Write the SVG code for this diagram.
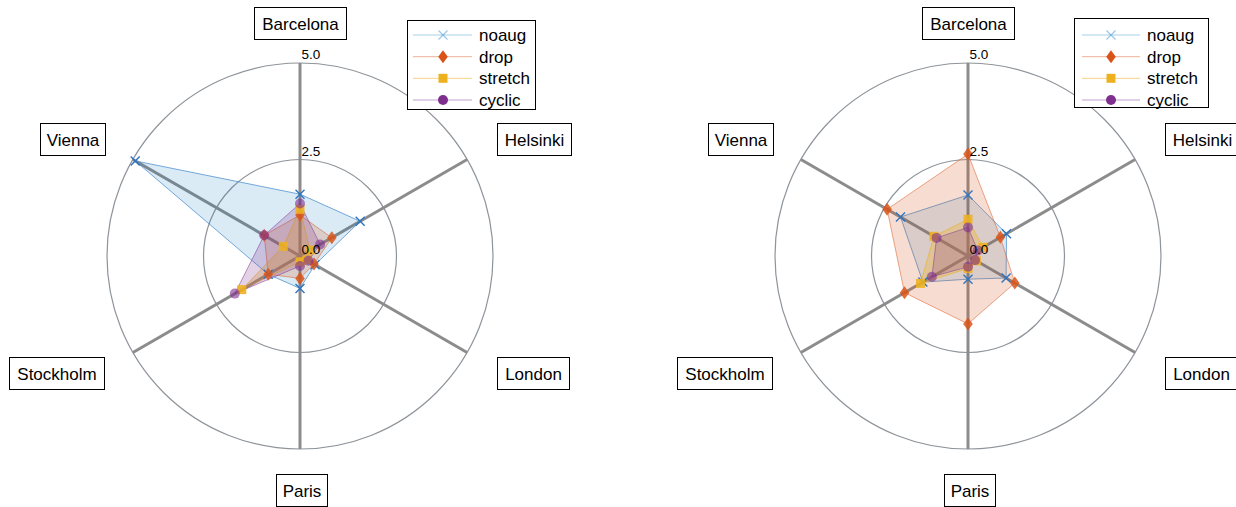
<svg xmlns="http://www.w3.org/2000/svg" xmlns:xlink="http://www.w3.org/1999/xlink" width="1236" height="507" viewBox="0 0 1236 507">
<style>
.ring{fill:none;stroke:#8e949a;stroke-width:1.2}
.spoke{stroke:#8c8c8c;stroke-width:3;stroke-linecap:butt}
.box{fill:#fff;stroke:#000;stroke-width:1}
.lbl{font-family:"Liberation Sans",Arial,sans-serif;font-size:17px;fill:#000;text-anchor:middle}
.tick{font-family:"Liberation Sans",Arial,sans-serif;font-size:13.5px;fill:#000}
.leg{font-family:"Liberation Sans",Arial,sans-serif;font-size:17px;fill:#000}
.p-noaug{fill:#0072BD;fill-opacity:0.14;stroke:#3d86cc;stroke-opacity:0.7;stroke-width:1}
.p-drop{fill:#D95319;fill-opacity:0.2;stroke:#D95319;stroke-opacity:0.5;stroke-width:1}
.p-stretch{fill:#EDB120;fill-opacity:0.3;stroke:#EDB120;stroke-opacity:0.6;stroke-width:1}
.p-cyclic{fill:#7E2F8E;fill-opacity:0.22;stroke:#7E2F8E;stroke-opacity:0.5;stroke-width:1}
.m-noaug{stroke:#2f74c0;stroke-width:1.4;fill:none}
.m-drop{fill:#D95319;fill-opacity:0.85}
.m-stretch{fill:#EDB120;fill-opacity:0.9}
.m-cyclic{fill:#7E2F8E;fill-opacity:0.6}
</style>
<defs>
<path id="mx" d="M-4.5,-4.5 L4.5,4.5 M-4.5,4.5 L4.5,-4.5"/>
<path id="md" d="M0,-6.5 L4.8,0 L0,6.5 L-4.8,0 Z"/>
<rect id="ms" x="-4.5" y="-4.5" width="9" height="9"/>
<circle id="mc" r="5"/>
</defs>
<rect width="1236" height="507" fill="#fff"/>

<!-- LEFT CHART -->
<g id="left-grid">
<circle class="ring" cx="300" cy="256" r="96.5"/>
<circle class="ring" cx="300" cy="256" r="193"/>
</g>
<g id="left-connectors">
<line class="spoke" x1="300" y1="256" x2="300" y2="63"/>
<line class="spoke" x1="300" y1="256" x2="467.1" y2="159.5"/>
<line class="spoke" x1="300" y1="256" x2="467.1" y2="352.5"/>
<line class="spoke" x1="300" y1="256" x2="300" y2="449"/>
<line class="spoke" x1="300" y1="256" x2="132.9" y2="352.5"/>
<line class="spoke" x1="300" y1="256" x2="132.9" y2="159.5"/>
</g>
<g id="left-noaug">
<polygon class="p-noaug" points="300,194.2 360.2,221.3 315,264.7 300,288.4 268.2,274.3 135.2,160.9"/>
</g>
<g id="left-drop">
<polygon class="p-drop" points="300,215.1 331.8,237.7 314,264.1 300,278.4 268.2,274.3 264.2,235.3"/>
</g>
<g id="left-stretch">
<polygon class="p-stretch" points="300,209.3 310,250.2 306.7,259.9 300,261.8 241.8,289.6 283.3,246.3"/>
</g>
<g id="left-cyclic">
<polygon class="p-cyclic" points="300,203.5 320.1,244.4 308.4,260.8 300,266 234.8,293.6 264.2,235.3"/>
</g>
<g id="left-markers">
<g class="m-noaug">
<use href="#mx" x="300" y="194.2"/><use href="#mx" x="360.2" y="221.3"/><use href="#mx" x="315" y="264.7"/><use href="#mx" x="300" y="288.4"/><use href="#mx" x="268.2" y="274.3"/><use href="#mx" x="135.2" y="160.9"/>
</g>
<g class="m-drop">
<use href="#md" x="300" y="215.1"/><use href="#md" x="331.8" y="237.7"/><use href="#md" x="314" y="264.1"/><use href="#md" x="300" y="278.4"/><use href="#md" x="268.2" y="274.3"/><use href="#md" x="264.2" y="235.3"/>
</g>
<g class="m-stretch">
<use href="#ms" x="300" y="209.3"/><use href="#ms" x="310" y="250.2"/><use href="#ms" x="306.7" y="259.9"/><use href="#ms" x="300" y="261.8"/><use href="#ms" x="241.8" y="289.6"/><use href="#ms" x="283.3" y="246.3"/>
</g>
<g class="m-cyclic">
<use href="#mc" x="300" y="203.5"/><use href="#mc" x="320.1" y="244.4"/><use href="#mc" x="308.4" y="260.8"/><use href="#mc" x="300" y="266"/><use href="#mc" x="234.8" y="293.6"/><use href="#mc" x="264.2" y="235.3"/>
</g>
</g>
<g id="left-ticks">
<text class="tick" x="301.5" y="59">5.0</text>
<text class="tick" x="301.5" y="156">2.5</text>
<text class="tick" x="301.5" y="254">0.0</text>
</g>
<g id="left-label-barcelona"><rect class="box" x="254.5" y="7.5" width="92" height="32"/><text class="lbl" x="300.5" y="29.5">Barcelona</text></g>
<g id="left-label-helsinki"><rect class="box" x="497.5" y="123.5" width="74" height="32"/><text class="lbl" x="534.5" y="145.5">Helsinki</text></g>
<g id="left-label-london"><rect class="box" x="497.5" y="357.5" width="72" height="32"/><text class="lbl" x="533.5" y="379.5">London</text></g>
<g id="left-label-paris"><rect class="box" x="276.5" y="474.5" width="51" height="32"/><text class="lbl" x="302" y="496.5">Paris</text></g>
<g id="left-label-stockholm"><rect class="box" x="9.5" y="357.5" width="95" height="32"/><text class="lbl" x="57" y="379.5">Stockholm</text></g>
<g id="left-label-vienna"><rect class="box" x="40.5" y="123.5" width="65" height="32"/><text class="lbl" x="73" y="145.5">Vienna</text></g>
<g id="left-legend">
<rect class="box" x="407.5" y="20.5" width="128" height="89"/>
<line x1="413" y1="35" x2="472" y2="35" stroke="#0072BD" stroke-opacity="0.35" stroke-width="1"/>
<use href="#mx" x="443" y="35" stroke="#0072BD" stroke-opacity="0.4" stroke-width="1.2" fill="none"/>
<text class="leg" x="479" y="41">noaug</text>
<line x1="413" y1="56.7" x2="472" y2="56.7" stroke="#D95319" stroke-opacity="0.45" stroke-width="1"/>
<use href="#md" x="443" y="56.7" fill="#D95319"/>
<text class="leg" x="479" y="62.7">drop</text>
<line x1="413" y1="78.3" x2="472" y2="78.3" stroke="#EDB120" stroke-opacity="0.55" stroke-width="1"/>
<use href="#ms" x="443" y="78.3" fill="#EDB120"/>
<text class="leg" x="479" y="84.3">stretch</text>
<line x1="413" y1="100" x2="472" y2="100" stroke="#7E2F8E" stroke-opacity="0.45" stroke-width="1"/>
<use href="#mc" x="443" y="100" fill="#7E2F8E"/>
<text class="leg" x="479" y="106">cyclic</text>
</g>

<!-- RIGHT CHART -->
<g id="right-grid">
<circle class="ring" cx="968" cy="256" r="96.5"/>
<circle class="ring" cx="968" cy="256" r="193"/>
</g>
<g id="right-connectors">
<line class="spoke" x1="968" y1="256" x2="968" y2="63"/>
<line class="spoke" x1="968" y1="256" x2="1135.1" y2="159.5"/>
<line class="spoke" x1="968" y1="256" x2="1135.1" y2="352.5"/>
<line class="spoke" x1="968" y1="256" x2="968" y2="449"/>
<line class="spoke" x1="968" y1="256" x2="800.9" y2="352.5"/>
<line class="spoke" x1="968" y1="256" x2="800.9" y2="159.5"/>
</g>
<g id="right-noaug">
<polygon class="p-noaug" points="968,195 1006.5,233.8 1006.1,278 968,279.2 922.9,282.1 900.5,217"/>
</g>
<g id="right-drop">
<polygon class="p-drop" points="968,154.1 1000.4,237.3 1014.8,283 968,323.9 904.5,292.7 887.1,209.3"/>
</g>
<g id="right-stretch">
<polygon class="p-stretch" points="968,219.3 983,247.3 976.4,260.8 968,268.4 920.5,283.4 933.9,236.3"/>
</g>
<g id="right-cyclic">
<polygon class="p-cyclic" points="968,227.4 977.7,250.4 975,260.1 968,266.8 931.9,276.8 936.6,237.9"/>
</g>
<g id="right-markers">
<g class="m-noaug">
<use href="#mx" x="968" y="195"/><use href="#mx" x="1006.5" y="233.8"/><use href="#mx" x="1006.1" y="278"/><use href="#mx" x="968" y="279.2"/><use href="#mx" x="922.9" y="282.1"/><use href="#mx" x="900.5" y="217"/>
</g>
<g class="m-drop">
<use href="#md" x="968" y="154.1"/><use href="#md" x="1000.4" y="237.3"/><use href="#md" x="1014.8" y="283"/><use href="#md" x="968" y="323.9"/><use href="#md" x="904.5" y="292.7"/><use href="#md" x="887.1" y="209.3"/>
</g>
<g class="m-stretch">
<use href="#ms" x="968" y="219.3"/><use href="#ms" x="983" y="247.3"/><use href="#ms" x="976.4" y="260.8"/><use href="#ms" x="968" y="268.4"/><use href="#ms" x="920.5" y="283.4"/><use href="#ms" x="933.9" y="236.3"/>
</g>
<g class="m-cyclic">
<use href="#mc" x="968" y="227.4"/><use href="#mc" x="977.7" y="250.4"/><use href="#mc" x="975" y="260.1"/><use href="#mc" x="968" y="266.8"/><use href="#mc" x="931.9" y="276.8"/><use href="#mc" x="936.6" y="237.9"/>
</g>
</g>
<g id="right-ticks">
<text class="tick" x="969.5" y="59">5.0</text>
<text class="tick" x="969.5" y="156">2.5</text>
<text class="tick" x="969.5" y="254">0.0</text>
</g>
<g id="right-label-barcelona"><rect class="box" x="922.5" y="7.5" width="92" height="32"/><text class="lbl" x="968.5" y="29.5">Barcelona</text></g>
<g id="right-label-helsinki"><rect class="box" x="1165.5" y="123.5" width="74" height="32"/><text class="lbl" x="1202.5" y="145.5">Helsinki</text></g>
<g id="right-label-london"><rect class="box" x="1165.5" y="357.5" width="72" height="32"/><text class="lbl" x="1201.5" y="379.5">London</text></g>
<g id="right-label-paris"><rect class="box" x="944.5" y="474.5" width="51" height="32"/><text class="lbl" x="970" y="496.5">Paris</text></g>
<g id="right-label-stockholm"><rect class="box" x="677.5" y="357.5" width="95" height="32"/><text class="lbl" x="725" y="379.5">Stockholm</text></g>
<g id="right-label-vienna"><rect class="box" x="708.5" y="123.5" width="65" height="32"/><text class="lbl" x="741" y="145.5">Vienna</text></g>
<g id="right-legend">
<rect class="box" x="1074.5" y="18.5" width="134" height="89"/>
<line x1="1082" y1="35" x2="1140" y2="35" stroke="#0072BD" stroke-opacity="0.35" stroke-width="1"/>
<use href="#mx" x="1111" y="35" stroke="#0072BD" stroke-opacity="0.4" stroke-width="1.2" fill="none"/>
<text class="leg" x="1147" y="41">noaug</text>
<line x1="1082" y1="56.7" x2="1140" y2="56.7" stroke="#D95319" stroke-opacity="0.45" stroke-width="1"/>
<use href="#md" x="1111" y="56.7" fill="#D95319"/>
<text class="leg" x="1147" y="62.7">drop</text>
<line x1="1082" y1="78.3" x2="1140" y2="78.3" stroke="#EDB120" stroke-opacity="0.55" stroke-width="1"/>
<use href="#ms" x="1111" y="78.3" fill="#EDB120"/>
<text class="leg" x="1147" y="84.3">stretch</text>
<line x1="1082" y1="100" x2="1140" y2="100" stroke="#7E2F8E" stroke-opacity="0.45" stroke-width="1"/>
<use href="#mc" x="1111" y="100" fill="#7E2F8E"/>
<text class="leg" x="1147" y="106">cyclic</text>
</g>
</svg>
